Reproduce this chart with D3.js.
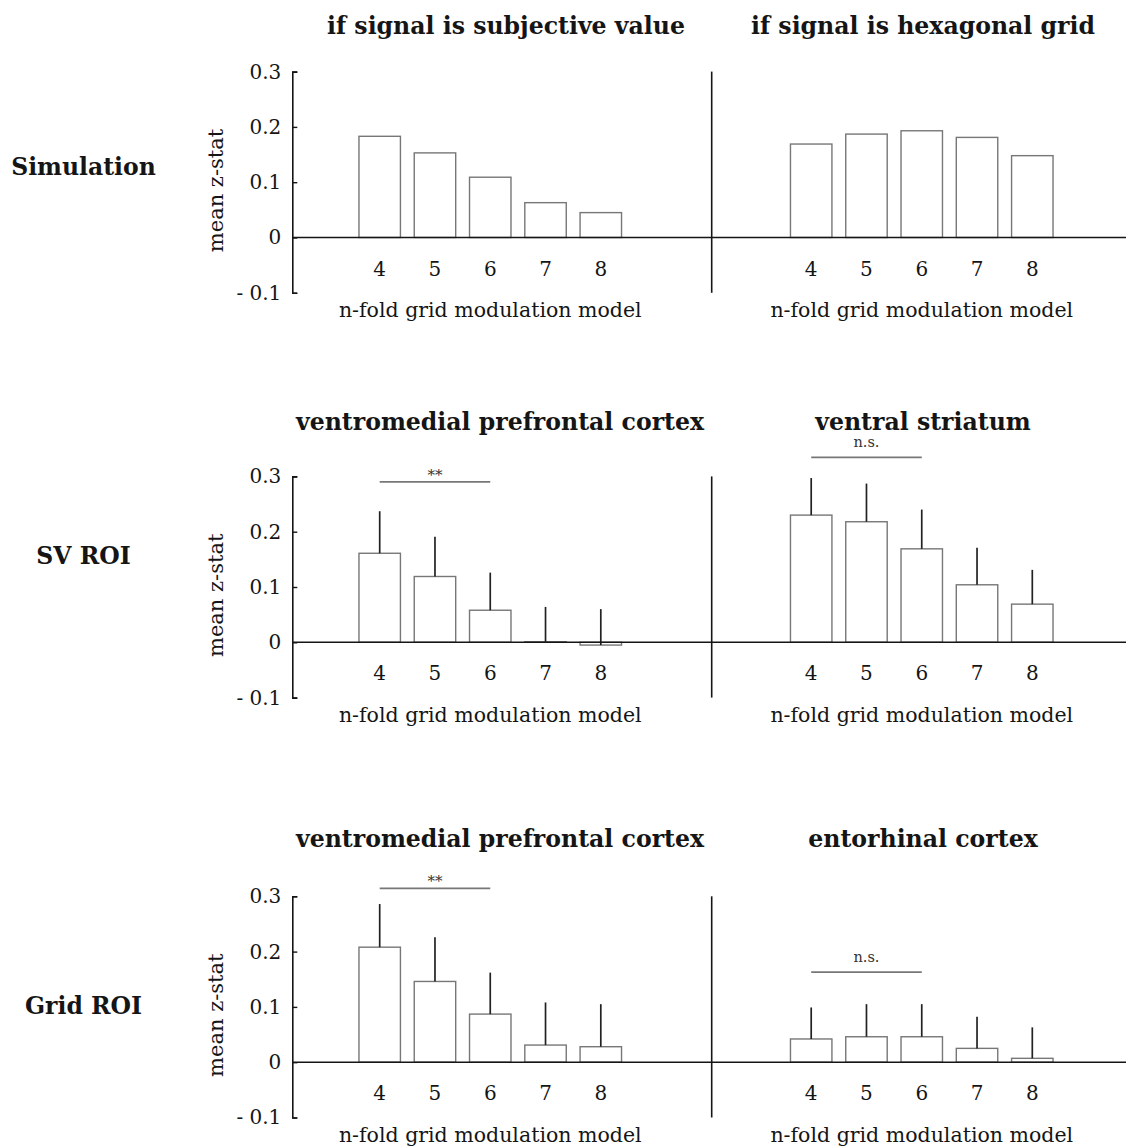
<!DOCTYPE html>
<html><head><meta charset="utf-8">
<script src="https://cdn.jsdelivr.net/npm/d3@7"></script>
<style>body{margin:0;background:#fff}</style></head>
<body>
<svg id="c" width="1126" height="1148"></svg>
<script>
// ---------- data ----------
const categories = [4, 5, 6, 7, 8];
const yTicks = [0.3, 0.2, 0.1, 0, -0.1];
const yTickLabels = ["0.3", "0.2", "0.1", "0", "- 0.1"];
const rowLabels = ["Simulation", "SV ROI", "Grid ROI"];
const titles = [
  ["if signal is subjective value", "if signal is hexagonal grid"],
  ["ventromedial prefrontal cortex", "ventral striatum"],
  ["ventromedial prefrontal cortex", "entorhinal cortex"]
];
const xLabel = "n-fold grid modulation model";
const yLabel = "mean z-stat";

// simulation
const simSubjectiveValue = [0.183, 0.153, 0.109, 0.063, 0.045];
const simHexagonalGrid   = [0.169, 0.187, 0.193, 0.181, 0.148];
// SV ROI
const svVmpfcMean = [0.161, 0.119, 0.058, 0.001, -0.005];
const svVmpfcSem  = [0.076, 0.072, 0.068, 0.063, 0.065];
const svVsMean    = [0.230, 0.218, 0.169, 0.104, 0.069];
const svVsSem     = [0.067, 0.069, 0.071, 0.067, 0.062];
// Grid ROI
const gridVmpfcMean = [0.208, 0.146, 0.087, 0.031, 0.028];
const gridVmpfcSem  = [0.078, 0.080, 0.075, 0.077, 0.077];
const gridEcMean    = [0.042, 0.046, 0.046, 0.025, 0.007];
const gridEcSem     = [0.057, 0.059, 0.059, 0.057, 0.056];
// significance brackets (4-fold vs 6-fold)
const sigLabels = ["**", "n.s.", "**", "n.s."];
const sigLevels = [0.290, 0.3345, 0.3145, 0.163];

// ---------- layout ----------
const W = 1126;
const rowZero = [237.5, 642.3, 1062.2];
const titleBase = [34, 429.5, 847];
const rowLabelBase = [175, 564, 1014];
const titleCenter = [[506, 923], [500, 923], [500, 923]];
const axisX = 292.3, divX = 711.7;
const unit = 553;            // px per 1.0 z-stat
const serif = "'DejaVu Serif', 'Liberation Serif', serif";
const ink = "#151515";

const svg = d3.select("#c");

const xLeft = d3.scaleBand().domain(categories).range([352.06, 628.44]).paddingInner(0.25).paddingOuter(0.125);
const xRight = d3.scaleBand().domain(categories).range([783.56, 1059.94]).paddingInner(0.25).paddingOuter(0.125);

const panels = [
  {row: 0, col: 0, mean: simSubjectiveValue, sem: null, sig: null},
  {row: 0, col: 1, mean: simHexagonalGrid, sem: null, sig: null},
  {row: 1, col: 0, mean: svVmpfcMean, sem: svVmpfcSem, sig: 0},
  {row: 1, col: 1, mean: svVsMean, sem: svVsSem, sig: 1},
  {row: 2, col: 0, mean: gridVmpfcMean, sem: gridVmpfcSem, sig: 2},
  {row: 2, col: 1, mean: gridEcMean, sem: gridEcSem, sig: 3}
];

function yScale(r) {
  const z = rowZero[r];
  return d3.scaleLinear().domain([-0.1, 0.3]).range([z + 0.1 * unit, z - 0.3 * unit]);
}

// row-level elements
rowLabels.forEach((lab, r) => {
  const y = yScale(r);
  const g = svg.append("g");
  g.append("text").attr("x", 83.5).attr("y", rowLabelBase[r])
    .attr("text-anchor", "middle").attr("font-family", serif)
    .attr("font-weight", "bold").attr("font-size", 23.5).attr("fill", ink).text(lab);

  // y label
  g.append("text").attr("transform", `translate(223,${rowZero[r] - 47}) rotate(-90)`)
    .attr("text-anchor", "middle").attr("font-family", serif)
    .attr("font-size", 21).attr("fill", ink).text(yLabel);

  // left y axis
  const ax = d3.axisLeft(y).tickValues(yTicks).tickSizeInner(-5).tickSizeOuter(-5)
    .tickPadding(11).tickFormat((d, i) => yTickLabels[i]);
  const ag = g.append("g").attr("transform", `translate(${axisX},0)`).call(ax);
  ag.select(".domain").attr("stroke", ink).attr("stroke-width", 1.6);
  ag.selectAll(".tick line").attr("stroke", ink).attr("stroke-width", 1.4);
  ag.selectAll(".tick text").attr("font-family", serif).attr("font-size", 20).attr("fill", ink);

  // divider
  g.append("line").attr("x1", divX).attr("x2", divX).attr("y1", y(0.3)).attr("y2", y(-0.1))
    .attr("stroke", ink).attr("stroke-width", 1.6);
});

panels.forEach(p => {
  const y = yScale(p.row);
  const x = p.col === 0 ? xLeft : xRight;
  const g = svg.append("g");
  const data = categories.map((c, i) => ({c, v: p.mean[i], e: p.sem ? p.sem[i] : null}));

  // title
  g.append("text").attr("x", titleCenter[p.row][p.col]).attr("y", titleBase[p.row])
    .attr("text-anchor", "middle").attr("font-family", serif).attr("font-weight", "bold")
    .attr("font-size", 23.6).attr("fill", ink).text(titles[p.row][p.col]);

  // bars
  g.selectAll("rect.bar").data(data).enter().append("rect").attr("class", "bar")
    .attr("x", d => x(d.c)).attr("width", x.bandwidth())
    .attr("y", d => y(Math.max(0, d.v))).attr("height", d => Math.abs(y(d.v) - y(0)))
    .attr("fill", "#fff").attr("stroke", "#777").attr("stroke-width", 1.4);

  // error bars
  if (p.sem) {
    g.selectAll("line.err").data(data).enter().append("line").attr("class", "err")
      .attr("x1", d => x(d.c) + x.bandwidth() / 2).attr("x2", d => x(d.c) + x.bandwidth() / 2)
      .attr("y1", d => y(d.v)).attr("y2", d => y(d.v + d.e))
      .attr("stroke", "#222").attr("stroke-width", 1.7);
  }

  // x tick labels
  const xa = d3.axisBottom(x).tickSize(0).tickPadding(24);
  const xg = g.append("g").attr("transform", `translate(0,${y(0)})`).call(xa);
  xg.select(".domain").remove();
  xg.selectAll(".tick text").attr("font-family", serif).attr("font-size", 20).attr("fill", ink);

  // x label
  g.append("text").attr("x", x(6) + x.bandwidth() / 2).attr("y", y(0) + 79.5)
    .attr("text-anchor", "middle").attr("font-family", serif).attr("font-size", 20.5)
    .attr("fill", ink).text(xLabel);

  // significance
  if (p.sig !== null) {
    const lv = sigLevels[p.sig];
    const x1 = x(4) + x.bandwidth() / 2, x2 = x(6) + x.bandwidth() / 2;
    g.append("line").attr("x1", x1).attr("x2", x2).attr("y1", y(lv)).attr("y2", y(lv))
      .attr("stroke", "#777").attr("stroke-width", 1.7);
    const isStar = sigLabels[p.sig] === "**";
    g.append("text").attr("x", (x1 + x2) / 2).attr("y", y(lv) - (isStar ? 2 : 10))
      .attr("text-anchor", "middle").attr("font-family", serif)
      .attr("font-size", isStar ? 15 : 14.5).attr("fill", "#333").text(sigLabels[p.sig]);
  }
});

// zero lines on top
rowZero.forEach((z, r) => {
  const y = yScale(r);
  svg.append("line").attr("x1", axisX).attr("x2", W).attr("y1", y(0)).attr("y2", y(0))
    .attr("stroke", ink).attr("stroke-width", 1.6);
});
</script>
</body></html>
